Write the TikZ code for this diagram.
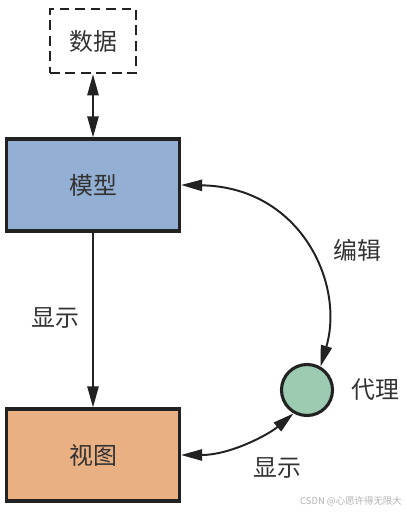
\documentclass[tikz,border=0pt]{standalone}
\usepackage{fontspec}
\setmainfont{Noto Sans CJK SC}
\usetikzlibrary{arrows.meta}
\definecolor{modelblue}{HTML}{93AFD3}
\definecolor{vieworange}{HTML}{E8B083}
\definecolor{proxygreen}{HTML}{9CCBB2}
\definecolor{linegray}{HTML}{222222}
\definecolor{textgray}{HTML}{333333}
\begin{document}
\begin{tikzpicture}[x=0.025cm, y=0.025cm,
    font=\fontsize{17}{20}\selectfont, text=textgray,
    >={Triangle[length=15pt, width=8pt]},
    box/.style={draw=linegray, line width=2.2pt, minimum width=4.325cm, minimum height=2.3cm, inner sep=0pt},
    link/.style={draw=linegray, line width=1.4pt}]
        \useasboundingbox (0,0) rectangle (407,513);

        \node[draw=linegray, line width=1.8pt, dash pattern=on 7pt off 4pt, minimum width=2.15cm, minimum height=1.6cm, inner sep=0pt] (data) at (93,472) {数据};
        \node[box, fill=modelblue] (model) at (93,328) {模型};
        \node[box, fill=vieworange] (view) at (93,58) {视图};
        \node[circle, draw=linegray, line width=2.2pt, fill=proxygreen, minimum size=1.275cm, inner sep=0pt] (proxy) at (307,123) {};

        \node (edit) at (357,263) {编辑};
        \node (proxylabel) at (375,123) {代理};
        \node (showleft) at (55,195) {显示};
        \node (showright) at (277,45) {显示};

        \draw[link, <->] (data) -- (model);
        \draw[link, ->] (model) -- (view);
        \draw[link, <->] (model.east) .. controls (300,326) and (345,230) .. (proxy.60);
        \draw[link, <->] (view.east) .. controls (230,58) and (268,78) .. (proxy.240);

        \node[font=\fontsize{6.7}{8}\selectfont, text=black!30] (mark) at (351,12) {CSDN @心愿许得无限大};
    \end{tikzpicture}
\end{document}
